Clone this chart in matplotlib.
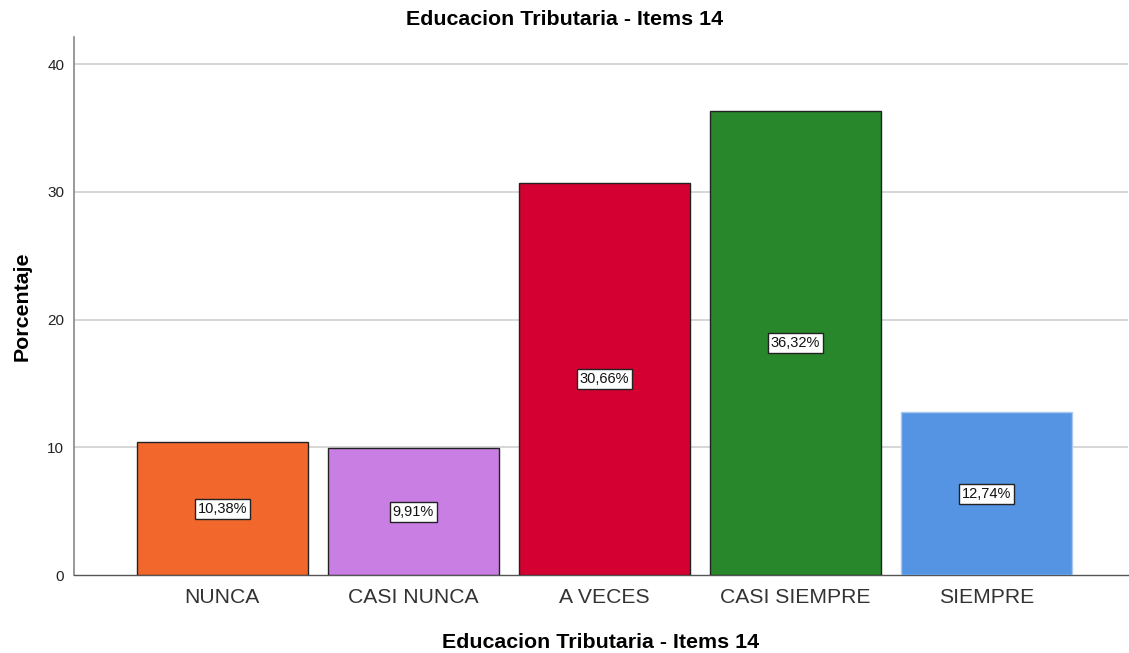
import matplotlib
matplotlib.use("Agg")
import matplotlib.pyplot as plt

categories = ["NUNCA", "CASI NUNCA", "A VECES", "CASI SIEMPRE", "SIEMPRE"]
values = [10.38, 9.91, 30.66, 36.32, 12.74]
labels = ["10,38%", "9,91%", "30,66%", "36,32%", "12,74%"]
colors = ["#F2682C", "#C97EE3", "#D50032", "#28862B", "#5494E2"]
edges = ["#222222", "#222222", "#222222", "#222222", "#A8C8F0"]
yticks = [0, 10, 20, 30, 40]

plt.rcParams['font.family'] = ['Liberation Sans', 'DejaVu Sans']

fig = plt.figure(figsize=(11.29, 6.53), dpi=100)
ax = fig.add_axes([0.0655, 0.1194, 0.9335, 0.8236])

x = list(range(len(categories)))
ax.bar(x, values, width=0.895, color=colors, edgecolor=edges, linewidth=1.0, zorder=3)
for xi, v, lab in zip(x, values, labels):
    ax.text(xi, v / 2, lab, ha="center", va="center", fontsize=10.5, color="#111111", zorder=4,
            bbox=dict(boxstyle="square,pad=0.2", facecolor="white", edgecolor="#222222", linewidth=1.0))

ax.set_xlim(-0.777, 4.741)
ax.set_ylim(0, 42.11)
ax.set_yticks(yticks)
ax.set_xticks(x)
ax.set_xticklabels(categories, fontsize=15.2, color="#333333")
ax.tick_params(axis="y", labelsize=11, length=0, pad=7, colors="#222222")
ax.tick_params(axis="x", length=0, pad=9)
for t in yticks[1:]:
    ax.axhline(t, color="#CFCFCF", linewidth=1.2, zorder=1)

for s in ["top", "right"]:
    ax.spines[s].set_visible(False)
ax.spines["left"].set_color("#888888")
ax.spines["bottom"].set_color("#555555")
ax.spines["left"].set_linewidth(1.2)
ax.spines["bottom"].set_linewidth(1.0)

fig.text(0.5, 1 - 19.5 / 653, "Educacion Tributaria - Items 14", fontsize=15.4, fontweight="bold",
         ha="center", va="center")
ax.set_xlabel("Educacion Tributaria - Items 14", fontsize=15.4, fontweight="bold", labelpad=19)
ax.set_ylabel("Porcentaje", fontsize=15.4, fontweight="bold", labelpad=11)

fig.savefig("out.png", dpi=100)
